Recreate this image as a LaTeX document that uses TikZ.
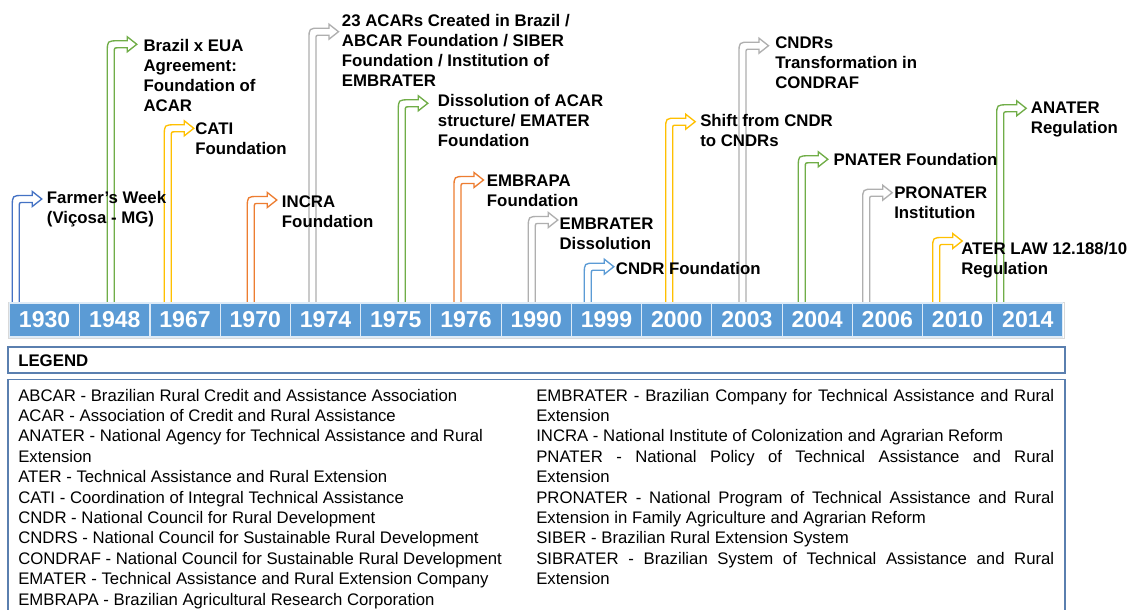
\documentclass[tikz,border=0pt]{standalone}
\usepackage{fontspec}
\setmainfont{Liberation Sans}
\definecolor{barblue}{HTML}{5B9BD5}
\definecolor{ablue}{HTML}{4472C4}
\definecolor{ablue2}{HTML}{5B9BD5}
\definecolor{agreen}{HTML}{70AD47}
\definecolor{ayellow}{HTML}{FFC000}
\definecolor{aorange}{HTML}{ED7D31}
\definecolor{agray}{HTML}{AFAFAF}
\definecolor{legblue}{HTML}{5A7FAF}
\newcommand\bentarrow[4]{%
  \coordinate (#4) at ({#1},303);
  \draw[#3, line width=1pt, line join=miter]
   (#4) -- ({#1},{#2-3.5+11}) .. controls ({#1},{#2-3.5}) .. ({#1+11},{#2-3.5})
   -- ({#1+20},{#2-3.5}) -- ({#1+20},{#2-7.5}) -- ({#1+29.5},{#2})
   -- ({#1+20},{#2+7.5}) -- ({#1+20},{#2+3.5})
   -- ({#1+11},{#2+3.5}) .. controls ({#1+7},{#2+3.5}) .. ({#1+7},{#2+7.5})
   -- ({#1+7},303);}
\newcommand\evtlabel[4]{%
  \node[evtext] (#1) at ({#2},{#3+6}) {\begin{tabular}[t]{@{}l@{}}#4\end{tabular}};}
\tikzset{
  evtext/.style={anchor=base west, inner sep=0pt, font=\fontsize{12.6}{15}\selectfont\bfseries},
  yearcell/.style={rectangle, fill=barblue, draw=white!80!barblue, line width=0.8pt,
    minimum width=52.67pt, minimum height=25.5pt, inner sep=0pt, text=white,
    font=\fontsize{17.3}{20}\selectfont\bfseries},
  legtext/.style={anchor=base west, inner sep=0pt, font=\fontsize{12.55}{15.3}\selectfont},
  legframe/.style={draw=legblue, line width=1.1pt}
}
\begin{document}
\begin{tikzpicture}[x=0.75pt, y=-0.75pt]
\useasboundingbox (0,0) rectangle (1128,610);
\fill[white] (0,0) rectangle (1128,610);
% arrows
\bentarrow{12.3}{199}{ablue}{a1930}
\bentarrow{107.3}{44.3}{agreen}{a1948}
\bentarrow{164.3}{128.3}{ayellow}{a1967}
\bentarrow{247.3}{200}{aorange}{a1970}
\bentarrow{309}{31.7}{agray}{a1974}
\bentarrow{398.3}{103.3}{agreen}{a1975}
\bentarrow{454}{180}{aorange}{a1976}
\bentarrow{528.3}{220}{agray}{a1990}
\bentarrow{584.3}{266.7}{ablue2}{a1999}
\bentarrow{665.7}{121.7}{ayellow}{a2000}
\bentarrow{739}{45.7}{agray}{a2003}
\bentarrow{798.3}{159.3}{agreen}{a2004}
\bentarrow{862.7}{192.7}{agray}{a2006}
\bentarrow{932.7}{241}{ayellow}{a2010}
\bentarrow{996.7}{108.3}{agreen}{a2014}
% labels
\evtlabel{t1930}{46.7}{197}{Farmer’s Week\\(Viçosa - MG)}
\evtlabel{t1948}{143.3}{46}{Brazil x EUA\\Agreement:\\Foundation of\\ACAR}
\evtlabel{t1967}{195}{128}{CATI\\Foundation}
\evtlabel{t1970}{281.7}{201}{INCRA\\Foundation}
\evtlabel{t1974}{341.7}{20.7}{23 ACARs Created in Brazil /\\ABCAR Foundation / SIBER\\Foundation / Institution of\\EMBRATER}
\evtlabel{t1975}{437.7}{101}{Dissolution of ACAR\\structure/ EMATER\\Foundation}
\evtlabel{t1976}{486.7}{180.7}{EMBRAPA\\Foundation}
\evtlabel{t1990}{559.3}{223}{EMBRATER\\Dissolution}
\evtlabel{t1999}{615.7}{268.7}{CNDR Foundation}
\evtlabel{t2000}{700}{120.7}{Shift from CNDR\\to CNDRs}
\evtlabel{t2003}{775}{42.7}{CNDRs\\Transformation in\\CONDRAF}
\evtlabel{t2004}{833.3}{159.3}{PNATER Foundation}
\evtlabel{t2006}{894}{192.7}{PRONATER\\Institution}
\evtlabel{t2010}{961}{248.3}{ATER LAW 12.188/10\\Regulation}
\evtlabel{t2014}{1030.7}{107.3}{ANATER\\Regulation}
% timeline bar
\draw[black!15, line width=1pt] (8.8,302.3) rectangle (1064.5,338.5);
\foreach \yr [count=\i from 0] in {1930,1948,1967,1970,1974,1975,1976,1990,1999,2000,2003,2004,2006,2010,2014}{
  \node[yearcell] (y\yr) at ({9.5+70.23*\i+35.12},320) {\yr};
}
% legend
\draw[legframe] (8,347) rectangle (1065,373);
\node[anchor=base west, inner sep=0pt, font=\fontsize{12.6}{15}\selectfont\bfseries] (legend) at (18,366) {LEGEND};
\draw[legframe] (8,379.5) rectangle (1065,640);
\node[legtext] (legleft) at (18,401) {\begin{tabular}[t]{@{}l@{}}
ABCAR - Brazilian Rural Credit and Assistance Association\\
ACAR - Association of Credit and Rural Assistance\\
ANATER - National Agency for Technical Assistance and Rural\\
Extension\\
ATER - Technical Assistance and Rural Extension\\
CATI - Coordination of Integral Technical Assistance\\
CNDR - National Council for Rural Development\\
CNDRS - National Council for Sustainable Rural Development\\
CONDRAF - National Council for Sustainable Rural Development\\
EMATER - Technical Assistance and Rural Extension Company\\
EMBRAPA - Brazilian Agricultural Research Corporation
\end{tabular}};
\node[legtext] (legright) at (536,401) {\begin{tabular}[t]{@{}l@{}}
\makebox[388.5pt][s]{EMBRATER - Brazilian Company for Technical Assistance and Rural}\\
Extension\\
INCRA - National Institute of Colonization and Agrarian Reform\\
\makebox[388.5pt][s]{PNATER - National Policy of Technical Assistance and Rural}\\
Extension\\
\makebox[388.5pt][s]{PRONATER - National Program of Technical Assistance and Rural}\\
Extension in Family Agriculture and Agrarian Reform\\
SIBER - Brazilian Rural Extension System\\
\makebox[388.5pt][s]{SIBRATER - Brazilian System of Technical Assistance and Rural}\\
Extension
\end{tabular}};
\end{tikzpicture}
\end{document}
